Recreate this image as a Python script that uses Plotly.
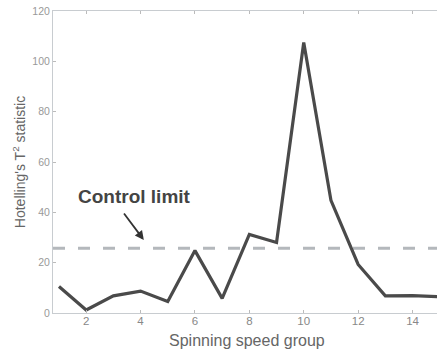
import plotly.graph_objects as go

groups = list(range(1, 16))
t2_values = [10.5, 1.2, 6.8, 8.7, 4.6, 24.8, 5.8, 31.2, 28.0, 107.5, 44.8, 19.3, 6.8, 6.9, 6.5]
control_limit = 25.7
x_ticks = [2, 4, 6, 8, 10, 12, 14]
y_ticks = [0, 20, 40, 60, 80, 100, 120]

fig = go.Figure()
fig.add_trace(go.Scatter(
    x=[0.78, 14.9], y=[control_limit, control_limit], mode="lines",
    line=dict(color="#b4b8bc", width=3, dash="12px,13px"), hoverinfo="skip"))
fig.add_trace(go.Scatter(
    x=groups, y=t2_values, mode="lines",
    line=dict(color="#4a4a4a", width=3.2)))

fig.add_annotation(x=4.12, y=29.0, ax=3.35, ay=40.1, axref="x", ayref="y",
                   xref="x", yref="y", showarrow=True, arrowhead=2, arrowsize=1,
                   arrowwidth=1.8, arrowcolor="#333", text="", standoff=0)
fig.add_annotation(x=3.76, y=46.2, xref="x", yref="y", text="<b>Control limit</b>",
                   showarrow=False, font=dict(family="Liberation Sans, Arial", size=19, color="#444"))
fig.add_annotation(x=0.505, y=-0.09, xref="paper", yref="paper", text="Spinning speed group",
                   showarrow=False, yanchor="middle",
                   font=dict(family="Liberation Sans, Arial", size=16, color="#666"))

fig.update_layout(
    width=437, height=351,
    margin=dict(l=53, r=0, t=11, b=38, autoexpand=False),
    paper_bgcolor="white", plot_bgcolor="white",
    showlegend=False,
    font=dict(family="Liberation Sans, Arial", color="#777"),
)
fig.update_xaxes(range=[0.78, 14.9], tickvals=x_ticks, showgrid=False, zeroline=False,
                 showline=True, linecolor="#c8ccd0", linewidth=1, mirror="ticks",
                 ticks="inside", ticklen=3, tickcolor="#bbb", ticklabelstandoff=-3,
                 tickfont=dict(size=11.5, color="#888"))
fig.update_yaxes(range=[0, 120], tickvals=y_ticks, showgrid=False, zeroline=False,
                 showline=True, linecolor="#c8ccd0", linewidth=1,
                 ticks="inside", ticklen=3, tickcolor="#bbb",
                 tickfont=dict(size=10.5, color="#999"),
                 title=dict(text="Hotelling's T<sup>2</sup> statistic", font=dict(size=14, color="#666"), standoff=3))

fig.write_html("out.html", config={"displayModeBar": False},
               post_script="document.body.style.margin='0';")
